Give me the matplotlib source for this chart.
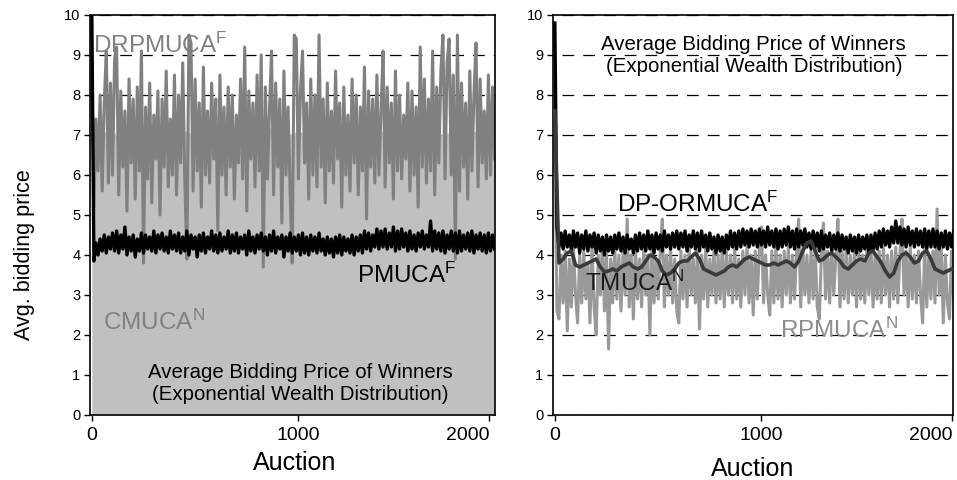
import numpy as np
import matplotlib
matplotlib.use("Agg")
import matplotlib.pyplot as plt

plt.rcParams['font.family'] = ['Liberation Sans', 'DejaVu Sans']
plt.rcParams['mathtext.fontset'] = 'custom'
plt.rcParams['mathtext.rm'] = 'Liberation Sans'
plt.rcParams['mathtext.default'] = 'regular'

# auction step between samples
STEP = 10
TMUCA_STEP = 20
CMUCA_STEP = 50

# left panel
drpmuca = [
    8.6, 5.2, 7.4, 6.1, 8.0, 5.6, 7.8, 9.1, 5.8, 8.3, 6.0, 8.9, 9.2, 5.5,
    8.1, 6.2, 7.6, 5.1, 8.4, 6.3, 7.9, 5.4, 8.2, 6.1, 9.1, 3.8, 7.7, 5.9,
    8.3, 5.3, 7.5, 6.4, 8.1, 5.0, 7.9, 6.2, 8.6, 5.7, 7.4, 6.0, 8.5, 5.5,
    8.0, 6.3, 8.8, 5.9, 3.9, 9.5, 9.3, 5.6, 8.4, 6.1, 7.8, 5.2, 8.7, 6.0,
    7.6, 5.8, 8.3, 6.4, 7.9, 4.6, 8.5, 6.0, 7.7, 5.5, 8.2, 6.2, 8.0, 5.4,
    7.5, 6.3, 8.4, 5.9, 9.2, 5.1, 8.1, 6.4, 7.8, 5.7, 8.5, 6.1, 9.0, 3.7,
    8.2, 5.9, 7.6, 9.1, 5.5, 8.3, 6.2, 7.9, 4.8, 8.6, 6.0, 7.7, 5.6, 3.8,
    9.5, 9.4, 5.9, 8.1, 9.1, 6.3, 7.8, 5.4, 8.4, 6.0, 8.0, 5.7, 9.5, 6.2,
    7.9, 5.3, 8.3, 6.1, 7.6, 5.8, 8.6, 6.4, 7.8, 5.2, 8.2, 6.0, 7.5, 5.6,
    8.4, 6.3, 8.0, 5.5, 7.7, 6.1, 8.7, 4.9, 8.1, 6.2, 7.9, 5.8, 8.5, 6.0,
    7.6, 9.1, 5.7, 8.2, 6.3, 7.8, 5.4, 8.6, 6.1, 8.0, 5.9, 7.5, 6.4, 8.3,
    5.6, 8.1, 6.0, 7.7, 5.2, 9.2, 6.2, 8.4, 5.8, 7.9, 6.1, 9.1, 5.5, 8.2,
    6.3, 8.6, 9.5, 5.9, 8.8, 9.4, 6.0, 8.5, 3.9, 9.5, 5.6, 8.3, 6.2, 7.8,
    5.4, 8.6, 6.1, 8.0, 9.3, 5.7, 8.4, 6.3, 7.6, 5.9, 8.5, 6.0, 8.2, 6.4,
]
pmuca = [
    10.0, 3.85, 4.3, 4.0, 4.4, 4.1, 4.5, 4.05, 4.45, 4.15, 4.55, 4.1, 4.6, 4.05,
    4.5, 4.15, 4.7, 4.0, 4.45, 4.1, 4.5, 3.95, 4.4, 4.1, 4.55, 4.05, 4.5, 4.15,
    4.45, 4.1, 4.6, 4.05, 4.5, 4.15, 4.55, 4.1, 4.45, 4.05, 4.6, 4.15, 4.5, 4.1,
    4.55, 4.05, 4.45, 4.1, 4.6, 4.0, 4.5, 4.15, 4.45, 3.95, 4.5, 4.1, 4.55, 4.05,
    4.45, 4.15, 4.6, 4.1, 4.5, 4.05, 4.55, 4.1, 4.45, 4.15, 4.6, 4.05, 4.5, 4.1,
    4.55, 4.05, 4.45, 4.15, 4.5, 4.0, 4.6, 4.1, 4.45, 4.05, 4.5, 4.15, 4.55, 4.1,
    4.45, 4.0, 4.5, 4.1, 4.6, 4.05, 4.45, 4.15, 4.5, 3.95, 4.45, 4.1, 4.55, 4.05,
    4.45, 4.1, 4.5, 4.0, 4.55, 4.05, 4.45, 4.0, 4.5, 4.1, 4.45, 4.05, 4.55, 4.1,
    4.4, 4.0, 4.45, 4.05, 4.4, 3.95, 4.45, 4.05, 4.5, 4.0, 4.45, 4.1, 4.4, 4.05,
    4.5, 4.0, 4.45, 4.1, 4.5, 4.05, 4.6, 4.15, 4.55, 4.1, 4.5, 4.2, 4.65, 4.15,
    4.6, 4.2, 4.65, 4.15, 4.55, 4.2, 4.7, 4.1, 4.6, 4.15, 4.65, 4.2, 4.55, 4.1,
    4.6, 4.15, 4.5, 4.1, 4.55, 4.2, 4.6, 4.15, 4.5, 4.2, 4.85, 4.1, 4.6, 4.15,
    4.55, 4.1, 4.6, 4.05, 4.5, 4.15, 4.6, 4.1, 4.55, 4.05, 4.6, 4.1, 4.5, 4.15,
    4.55, 4.1, 4.6, 4.05, 4.5, 4.15, 4.55, 4.1, 4.5, 4.05, 4.55, 4.1, 4.5, 4.15,
]
cmuca = [
    7.0, 7.1, 7.0, 7.2, 7.1, 7.0, 7.1, 7.2, 7.0, 7.1, 7.0, 7.1, 7.2, 7.1,
    7.0, 7.1, 7.0, 7.2, 7.1, 7.0, 7.1, 7.0, 7.2, 7.1, 7.0, 7.1, 7.2, 7.0,
    7.1, 7.0, 7.1, 7.2, 7.0, 7.1, 7.0, 7.1, 7.2, 7.1, 7.0, 7.1,
]

# right panel
dp_ormuca = [
    9.8, 4.7, 4.2, 4.55, 4.15, 4.6, 4.2, 4.5, 4.1, 4.6, 4.2, 4.55, 4.05, 4.5,
    4.15, 4.6, 4.1, 4.5, 4.2, 4.55, 4.05, 4.5, 4.1, 4.45, 4.0, 4.5, 4.1, 4.45,
    4.05, 4.5, 4.15, 4.55, 4.1, 4.45, 4.05, 4.5, 4.15, 4.4, 4.05, 4.5, 4.1, 4.55,
    4.15, 4.5, 4.1, 4.6, 4.15, 4.5, 4.05, 4.55, 4.15, 4.5, 4.1, 4.6, 4.2, 4.5,
    4.15, 4.55, 4.2, 4.6, 4.15, 4.55, 4.2, 4.6, 4.1, 4.5, 4.2, 4.6, 4.15, 4.55,
    4.1, 4.6, 4.2, 4.5, 4.1, 4.55, 4.15, 4.45, 4.05, 4.5, 4.1, 4.45, 4.05, 4.5,
    4.15, 4.6, 4.2, 4.55, 4.15, 4.6, 4.2, 4.65, 4.25, 4.6, 4.2, 4.65, 4.25, 4.6,
    4.2, 4.65, 4.25, 4.6, 4.2, 4.7, 4.25, 4.6, 4.2, 4.65, 4.15, 4.6, 4.2, 4.65,
    4.25, 4.7, 4.2, 4.6, 4.15, 4.65, 4.2, 4.6, 4.25, 4.65, 4.2, 4.55, 4.15, 4.6,
    4.2, 4.55, 4.1, 4.6, 4.15, 4.5, 4.2, 4.55, 4.1, 4.5, 4.15, 4.55, 4.1, 4.5,
    4.15, 4.45, 4.05, 4.5, 4.1, 4.45, 4.05, 4.5, 4.1, 4.45, 4.15, 4.5, 4.05, 4.5,
    4.1, 4.55, 4.15, 4.6, 4.2, 4.65, 4.25, 4.6, 4.2, 4.7, 4.3, 4.85, 4.3, 4.7,
    4.25, 4.65, 4.2, 4.7, 4.25, 4.6, 4.2, 4.65, 4.25, 4.6, 4.2, 4.65, 4.15, 4.6,
    4.2, 4.65, 4.2, 4.6, 4.15, 4.55, 4.2, 4.6, 4.15, 4.55, 4.2, 4.6, 4.15, 4.55,
]
tmuca = [
    7.6, 3.8, 3.9, 4.05, 4.1, 3.75, 3.7, 3.75, 3.8, 3.85, 3.9, 3.7, 3.58, 3.6,
    3.65, 3.6, 3.7, 3.75, 3.8, 3.7, 3.65, 3.7, 3.85, 4.0, 3.95, 3.85, 3.6, 3.5,
    3.55, 3.65, 3.8, 3.85, 3.85, 3.95, 4.05, 3.9, 3.65, 3.6, 3.55, 3.5, 3.55, 3.6,
    3.7, 3.75, 3.7, 3.8, 3.9, 3.95, 3.9, 3.85, 3.8, 3.75, 3.75, 3.8, 3.75, 3.8,
    3.85, 3.8, 3.7, 3.85, 4.1, 4.3, 4.35, 4.1, 3.85, 3.9, 4.0, 4.05, 3.95, 3.85,
    3.7, 3.65, 3.75, 3.85, 3.9, 3.85, 4.05, 4.1, 3.95, 3.8, 3.6, 3.45, 3.55, 3.85,
    4.0, 4.05, 3.95, 3.8, 3.85, 4.05, 4.1, 3.9, 3.65, 3.6, 3.55, 3.6, 3.65, 3.6,
]
rpmuca = [
    7.0, 2.6, 2.4, 4.0, 2.8, 4.1, 2.1, 3.9, 2.7, 4.2, 3.0, 2.3, 4.0, 2.8,
    4.1, 2.9, 3.8, 2.3, 4.2, 2.7, 2.0, 4.0, 3.0, 4.3, 2.6, 4.1, 1.65, 3.9,
    2.8, 4.2, 2.9, 4.0, 2.6, 4.1, 3.0, 4.9, 2.7, 4.0, 2.4, 4.2, 2.9, 3.9,
    2.7, 4.1, 3.0, 4.0, 2.0, 4.2, 2.8, 3.9, 2.9, 4.1, 4.9, 2.7, 4.0, 3.0,
    4.2, 2.8, 3.9, 2.6, 2.3, 4.1, 2.9, 4.0, 2.7, 4.2, 3.0, 3.9, 2.8, 4.1,
    2.15, 4.0, 2.9, 4.2, 2.7, 3.9, 3.0, 4.1, 2.8, 4.0, 2.9, 4.2, 2.7, 4.1,
    3.0, 4.0, 2.8, 4.2, 2.9, 3.9, 2.7, 4.1, 3.0, 4.2, 2.8, 4.0, 2.5, 4.1,
    2.9, 4.2, 4.7, 2.8, 4.0, 3.0, 2.5, 4.1, 2.8, 4.2, 2.9, 4.0, 2.7, 4.1,
    3.0, 4.2, 2.8, 4.0, 2.9, 4.1, 4.9, 2.7, 4.2, 3.0, 4.0, 2.8, 4.1, 2.9,
    4.2, 2.7, 2.4, 4.0, 4.8, 2.9, 4.1, 2.8, 4.2, 3.0, 4.0, 4.9, 2.7, 4.1,
    2.9, 4.2, 2.8, 4.0, 3.0, 4.1, 2.7, 4.2, 2.9, 4.0, 2.8, 4.1, 3.0, 4.2,
    2.7, 4.0, 2.9, 4.1, 2.8, 4.2, 3.0, 4.0, 2.7, 4.1, 2.9, 4.2, 2.8, 4.0,
    4.9, 3.0, 4.1, 2.7, 4.2, 2.9, 4.0, 2.8, 4.1, 3.0, 2.3, 4.2, 2.7, 4.0,
    2.9, 4.1, 2.8, 5.15, 3.0, 4.2, 2.3, 4.0, 2.8, 2.4, 4.1, 2.9, 4.0, 3.6,
]

y_ticks = list(range(0, 11))
x_tick_labels = ['0', '1000', '2000']
title = "Average Bidding Price of Winners\n(Exponential Wealth Distribution)"


def auctions(values, step):
    return np.arange(len(values)) * step


def style_axes(ax, xmax):
    ax.set_xlim(-9, xmax)
    ax.set_ylim(0, 10)
    ax.set_yticks(y_ticks)
    ax.set_yticklabels([str(t) for t in y_ticks], fontsize=10.5)
    # the last label sits at the right end of the axis, as in the source
    ax.set_xticks([0, 1000, 1923])
    labels = ax.set_xticklabels(x_tick_labels, fontsize=14)
    labels[-1].set_horizontalalignment('right')
    ax.tick_params(axis='y', direction='out', length=4, width=1, pad=3)
    ax.tick_params(axis='x', direction='out', length=4, width=1, pad=5)
    for s in ax.spines.values():
        s.set_linewidth(1.2)
    ax.yaxis.grid(True, color='black', linewidth=0.9, linestyle=(9.4, (9.4, 7.2)))
    ax.set_axisbelow(True)


fig = plt.figure(figsize=(9.57, 4.8), dpi=100)
ax1 = fig.add_axes([90 / 957, 65 / 480, 405 / 957, 400 / 480])
ax2 = fig.add_axes([553 / 957, 65 / 480, 400 / 957, 400 / 480])

# left: exponential wealth, CMUCA / DRPMUCA / PMUCA
ax1.fill_between(auctions(cmuca, CMUCA_STEP), 0, cmuca, color='#c0c0c0', lw=0, zorder=1)
ax1.plot(auctions(drpmuca, STEP), drpmuca, color='#808080', lw=2.2, zorder=2)
ax1.plot(auctions(pmuca, STEP), pmuca, color='black', lw=2.4, zorder=3)
style_axes(ax1, 1952)

ax1.text(6, 9.05, 'DRPMUCA$^F$', color='#808080', fontsize=17.5, zorder=5)
ax1.text(1284, 3.3, 'PMUCA$^F$', color='black', fontsize=17.5, zorder=5)
ax1.text(55, 2.12, 'CMUCA$^N$', color='#808080', fontsize=17.5, zorder=5)
ax1.text(1008, 0.8, title, ha='center', va='center', fontsize=14.7, zorder=5)

# right: RPMUCA / TMUCA / DP-ORMUCA
ax2.plot(auctions(rpmuca, STEP), rpmuca, color='#999999', lw=2.2, zorder=2)
ax2.plot(auctions(dp_ormuca, STEP), dp_ormuca, color='black', lw=2.4, zorder=3)
ax2.plot(auctions(tmuca, TMUCA_STEP), tmuca, color='#3a3a3a', lw=2.6, zorder=4)
style_axes(ax2, 1927)

ax2.text(963, 9.0, title, ha='center', va='center', fontsize=14.7, zorder=5)
ax2.text(300, 5.07, 'DP-ORMUCA$^F$', color='black', fontsize=17.5, zorder=5)
ax2.text(145, 3.1, 'TMUCA$^N$', color='#1a1a1a', fontsize=17.5, zorder=5)
ax2.text(1089, 1.93, 'RPMUCA$^N$', color='#8c8c8c', fontsize=17.5, zorder=5)

fig.text(25 / 957, 1 - 255 / 480, 'Avg. bidding price', rotation=90,
         ha='center', va='center', fontsize=15.5)
fig.text(295 / 957, 1 - 463 / 480, 'Auction', ha='center', va='center', fontsize=18)
fig.text(753 / 957, 1 - 469 / 480, 'Auction', ha='center', va='center', fontsize=18)

fig.savefig('out.png', dpi=100)
